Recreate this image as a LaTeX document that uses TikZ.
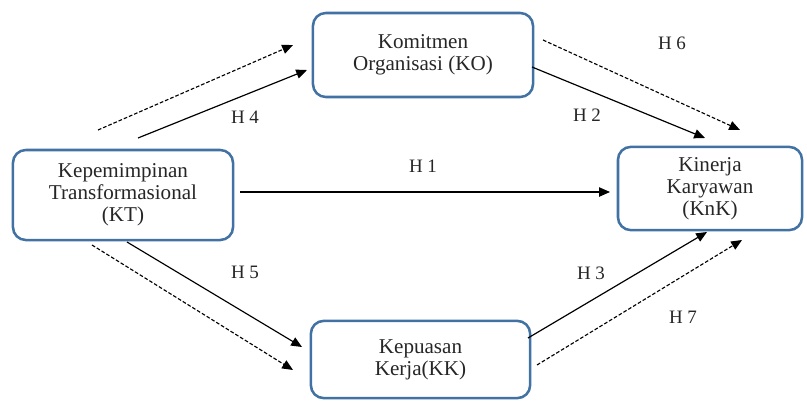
\documentclass[tikz,border=0pt]{standalone}
\usepackage{fontspec}
\setmainfont{Liberation Serif}
\usepackage{xcolor}
\usetikzlibrary{arrows.meta,positioning,calc}
\definecolor{boxblue}{RGB}{66,114,163}

\begin{document}
\begin{tikzpicture}[x=0.025cm, y=-0.025cm, >={Triangle[length=2.7mm,width=2.3mm]},
  varbox/.style={draw=boxblue, line width=1.8pt, rounded corners=0.32cm, align=center,
    inner sep=0pt, text=black!85, font=\fontsize{15}{15.8}\selectfont},
  hlabel/.style={text=black!85, font=\fontsize{13.5}{15}\selectfont},
  direct/.style={->, line width=0.85pt},
  mediated/.style={->, line width=0.8pt, dash pattern=on 2.6pt off 1.4pt}]
\useasboundingbox (0,0) rectangle (807,401);

% Variables
\node [varbox, minimum width=5.5cm, minimum height=2.25cm] (kt) at (123,195) {Kepemimpinan\\Transformasional\\(KT)};
\node [varbox, minimum width=5.5cm, minimum height=2.1cm] (ko) at (423,55) {Komitmen\\Organisasi (KO)};
\node [varbox, minimum width=4.6cm, minimum height=2.08cm] (knk) at (710,188.5) {Kinerja\\Karyawan\\(KnK)};
\node [varbox, minimum width=5.48cm, minimum height=1.93cm] (kk) at (420.5,359.5) {Kepuasan\\Kerja(KK)};

% Arrow ends
\coordinate (kt-ko-a) at (138,138);  \coordinate (kt-ko-b) at (307,70);
\coordinate (kt-ko-c) at (98,130);   \coordinate (kt-ko-d) at (293,45);
\coordinate (ko-knk-a) at (532,67);  \coordinate (ko-knk-b) at (705,138);
\coordinate (ko-knk-c) at (543,40);  \coordinate (ko-knk-d) at (740,130);
\coordinate (kt-knk-a) at (240,192); \coordinate (kt-knk-b) at (610,192);
\coordinate (kt-kk-a) at (127,242);  \coordinate (kt-kk-b) at (302,347);
\coordinate (kt-kk-c) at (92,245);   \coordinate (kt-kk-d) at (293,370);
\coordinate (kk-knk-a) at (528,338); \coordinate (kk-knk-b) at (707,232);
\coordinate (kk-knk-c) at (537,365); \coordinate (kk-knk-d) at (742,240);

% Direct paths
\draw [direct] (kt-ko-a) -- (kt-ko-b);
\draw [direct] (ko-knk-a) -- (ko-knk-b);
\draw [direct] (kt-knk-a) -- (kt-knk-b);
\draw [direct] (kt-kk-a) -- (kt-kk-b);
\draw [direct] (kk-knk-a) -- (kk-knk-b);

% Mediated paths
\draw [mediated] (kt-ko-c) -- (kt-ko-d);
\draw [mediated] (ko-knk-c) -- (ko-knk-d);
\draw [mediated] (kt-kk-c) -- (kt-kk-d);
\draw [mediated] (kk-knk-c) -- (kk-knk-d);

% Hypotheses
\node [hlabel] (h1) at (423,166) {H 1};
\node [hlabel] (h2) at (587,115) {H 2};
\node [hlabel] (h3) at (591,273) {H 3};
\node [hlabel] (h4) at (245,117) {H 4};
\node [hlabel] (h5) at (245,272) {H 5};
\node [hlabel] (h6) at (672,43) {H 6};
\node [hlabel] (h7) at (683,317) {H 7};
\end{tikzpicture}
\end{document}
